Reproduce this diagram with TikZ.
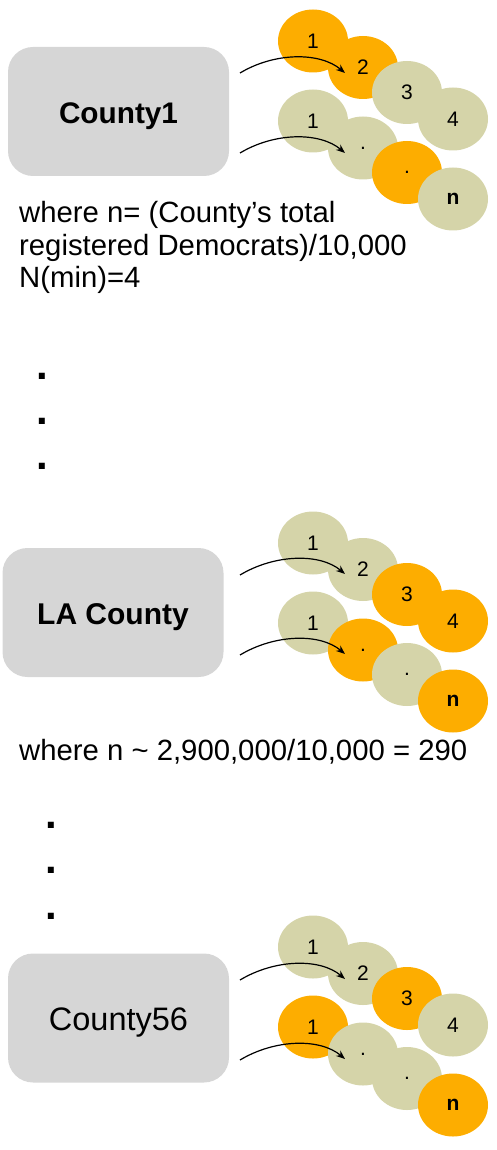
\documentclass[tikz,border=0pt]{standalone}
\usepackage{fontspec}
\setmainfont{Liberation Sans}
\usetikzlibrary{shapes.geometric,arrows.meta}
\definecolor{org}{HTML}{FDAD00}
\definecolor{grn}{HTML}{D5D4A9}
\definecolor{boxgray}{HTML}{D6D6D6}
\begin{document}
\begin{tikzpicture}[x=1pt,y=-1pt,
  county/.style={fill=boxgray, rounded corners=25pt, minimum width=221pt, minimum height=129pt, inner sep=0pt, text height=24pt, text depth=0pt},
  ball/.style={ellipse, minimum width=70pt, minimum height=63pt, inner sep=0pt, font=\fontsize{21}{22}\selectfont},
  o/.style={ball, fill=org},
  g/.style={ball, fill=grn},
  link/.style={-{Stealth[length=9pt,width=7pt]}, line width=1.2pt},
  note/.style={anchor=base west, inner sep=0pt, font=\fontsize{29.3}{32}\selectfont, align=left},
  vdot/.style={anchor=base, inner sep=0pt, font=\bfseries\fontsize{42}{42}\selectfont}]
\useasboundingbox (0,0) rectangle (496,1150);

% ---------- Section 1 ----------
\node[county, font=\bfseries\fontsize{29.75}{32}\selectfont] (c1) at (118.5,111.5) {County1};
\foreach \n/\dx/\dy/\c/\t in {a1/313/0/o/1, a2/363/26.5/o/2, a3/407/51.5/g/3, a4/453/78/g/4,
    b1/313/80/g/1, b2/363/107/g/., b3/407/131.5/o/., b4/453/158/g/\textbf{n}}
  \node[\c] (s1\n) at (\dx,41+\dy) {\t};
\coordinate (s1p) at (240,73);
\coordinate (s1q) at (345,73);
\coordinate (s1r) at (240,153);
\coordinate (s1s) at (345,153);
\draw[link] (s1p) .. controls +(35,-21) and +(-25,-21) .. (s1q);
\draw[link] (s1r) .. controls +(35,-21) and +(-25,-21) .. (s1s);
\node[note] (t1) at (19,287) {where n= (County’s total\\registered Democrats)/10,000\\N(min)=4};
\node[vdot] (d1) at (42,379) {.};
\node[vdot] (d2) at (42,424) {.};
\node[vdot] (d3) at (42,469) {.};

% ---------- Section 2 ----------
\node[county, font=\bfseries\fontsize{30}{32}\selectfont] (c2) at (113,612.5) {LA County};
\foreach \n/\dx/\dy/\c/\t in {a1/313/0/g/1, a2/363/26.5/g/2, a3/407/51.5/o/3, a4/453/78/o/4,
    b1/313/80/g/1, b2/363/107/o/., b3/407/131.5/g/., b4/453/158/o/\textbf{n}}
  \node[\c] (s2\n) at (\dx,543+\dy) {\t};
\coordinate (s2p) at (240,575);
\coordinate (s2q) at (345,574);
\coordinate (s2r) at (240,655);
\coordinate (s2s) at (345,654);
\draw[link] (s2p) .. controls +(35,-21) and +(-25,-21) .. (s2q);
\draw[link] (s2r) .. controls +(35,-21) and +(-25,-21) .. (s2s);
\node[note] (t2) at (19,760) {where n \textasciitilde{} 2,900,000/10,000 = 290};
\node[vdot] (d4) at (51,828) {.};
\node[vdot] (d5) at (51,873) {.};
\node[vdot] (d6) at (51,919) {.};

% ---------- Section 3 ----------
\node[county, font=\fontsize{32.5}{34}\selectfont] (c3) at (118.5,1018) {County56};
\foreach \n/\dx/\dy/\c/\t in {a1/313/0/g/1, a2/363/26.5/g/2, a3/407/51.5/o/3, a4/453/78/g/4,
    b1/313/80/o/1, b2/363/107/g/., b3/407/131.5/g/., b4/453/158/o/\textbf{n}}
  \node[\c] (s3\n) at (\dx,947+\dy) {\t};
\coordinate (s3p) at (240,980);
\coordinate (s3q) at (345,979);
\coordinate (s3r) at (240,1060);
\coordinate (s3s) at (345,1059);
\draw[link] (s3p) .. controls +(35,-21) and +(-25,-21) .. (s3q);
\draw[link] (s3r) .. controls +(35,-21) and +(-25,-21) .. (s3s);
\end{tikzpicture}
\end{document}
